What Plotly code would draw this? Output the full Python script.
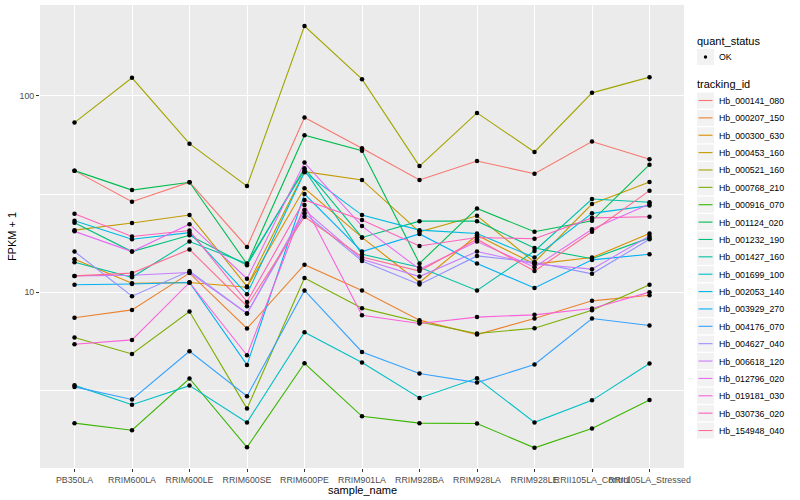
import plotly.graph_objects as go

samples = ["PB350LA", "RRIM600LA", "RRIM600LE", "RRIM600SE", "RRIM600PE", "RRIM901LA",
           "RRIM928BA", "RRIM928LA", "RRIM928LE", "RRII105LA_Control", "RRII105LA_Stressed"]

tracking_ids = ["Hb_000141_080", "Hb_000207_150", "Hb_000300_630", "Hb_000453_160", "Hb_000521_160",
                "Hb_000768_210", "Hb_000916_070", "Hb_001124_020", "Hb_001232_190", "Hb_001427_160",
                "Hb_001699_100", "Hb_002053_140", "Hb_003929_270", "Hb_004176_070", "Hb_004627_040",
                "Hb_006618_120", "Hb_012796_020", "Hb_019181_030", "Hb_030736_020", "Hb_154948_040"]

quant_status = ["OK"]

# FPKM + 1 per tracking_id across samples
hb_000141_080 = [41.6, 28.9, 36.3, 17.0, 77.5, 54.1, 37.3, 46.6, 40.1, 58.5, 47.5]
hb_000207_150 = [7.40, 8.12, 12.5, 6.53, 13.8, 10.2, 7.20, 6.08, 7.34, 9.03, 9.65]
hb_000300_630 = [14.7, 11.1, 11.2, 10.6, 33.8, 19.0, 11.2, 19.5, 13.9, 15.0, 19.9]
hb_000453_160 = [20.7, 22.5, 24.7, 10.7, 41.1, 37.3, 20.3, 24.5, 14.2, 28.1, 36.4]
hb_000521_160 = [73.1, 123.6, 57.1, 34.7, 226.8, 121.7, 43.9, 81.9, 51.8, 103.6, 124.6]
hb_000768_210 = [5.87, 4.84, 7.97, 2.55, 11.8, 8.29, 7.05, 6.16, 6.55, 8.09, 10.9]
hb_000916_070 = [2.15, 1.98, 3.63, 1.62, 4.34, 2.33, 2.15, 2.14, 1.61, 2.02, 2.82]
hb_001124_020 = [41.6, 33.1, 36.3, 13.9, 63.0, 52.6, 14.0, 26.7, 20.3, 23.1, 44.6]
hb_001232_190 = [22.6, 16.1, 19.5, 13.7, 42.8, 19.0, 23.0, 23.0, 16.8, 14.8, 18.9]
hb_001427_160 = [14.2, 11.9, 18.1, 14.0, 41.9, 15.6, 13.4, 10.2, 16.2, 29.8, 28.7]
hb_001699_100 = [3.35, 2.67, 3.34, 2.17, 6.25, 4.38, 2.89, 3.64, 2.17, 2.81, 4.33]
hb_002053_140 = [23.1, 18.6, 20.1, 9.77, 40.8, 24.7, 20.7, 19.9, 15.0, 25.2, 27.6]
hb_003929_270 = [10.9, 11.0, 11.2, 4.26, 31.6, 16.1, 19.8, 14.0, 10.5, 14.6, 15.6]
hb_004176_070 = [3.29, 2.84, 5.00, 2.95, 10.2, 4.96, 3.85, 3.46, 4.28, 7.34, 6.76]
hb_004627_040 = [16.1, 9.54, 12.8, 7.79, 25.2, 14.4, 10.95, 15.3, 14.2, 12.4, 18.6]
hb_006618_120 = [12.1, 12.2, 12.6, 7.79, 26.2, 14.7, 12.0, 16.1, 13.9, 13.1, 19.3]
hb_012796_020 = [20.4, 16.1, 22.2, 11.7, 45.7, 21.7, 13.1, 18.1, 13.4, 20.9, 28.1]
hb_019181_030 = [5.43, 5.71, 11.2, 4.77, 27.8, 7.63, 6.92, 7.46, 7.66, 8.26, 10.0]
hb_030736_020 = [25.1, 19.2, 20.6, 8.92, 29.5, 23.3, 17.2, 19.0, 18.7, 23.9, 24.2]
hb_154948_040 = [12.1, 12.5, 16.5, 8.48, 24.2, 15.1, 12.8, 18.6, 12.8, 20.3, 32.9]

series = [hb_000141_080, hb_000207_150, hb_000300_630, hb_000453_160, hb_000521_160,
          hb_000768_210, hb_000916_070, hb_001124_020, hb_001232_190, hb_001427_160,
          hb_001699_100, hb_002053_140, hb_003929_270, hb_004176_070, hb_004627_040,
          hb_006618_120, hb_012796_020, hb_019181_030, hb_030736_020, hb_154948_040]

colors = ["#F8766D", "#EA8331", "#D89000", "#C09B00", "#A3A500", "#7CAE00", "#39B600",
          "#00BB4E", "#00BF7D", "#00C1A3", "#00BFC4", "#00BAE0", "#00B0F6", "#35A2FF",
          "#9590FF", "#C77CFF", "#E76BF3", "#FA62DB", "#FF62BC", "#FF6C91"]

FONT = "Liberation Sans, Arial, sans-serif"
W, H = 800, 500
L, R, T, B = 40, 116, 5, 32
PW, PH = W - L - R, H - T - B


def px(x):
    return (x - L) / PW


def py(y):
    return (H - B - y) / PH


fig = go.Figure()
for name, vals, col in zip(tracking_ids, series, colors):
    fig.add_trace(go.Scatter(x=samples, y=vals, mode="lines", name=name,
                             line=dict(color=col, width=1.1), showlegend=False))

all_x = [s for vals in series for s in samples]
all_y = [v for vals in series for v in vals]
fig.add_trace(go.Scatter(x=all_x, y=all_y, mode="markers", name=quant_status[0],
                         marker=dict(color="black", size=4.5), showlegend=False))

# ---- hand-drawn ggplot-style legends ----
shapes, annotations = [], []
KEY_X0, KEY_X1, TXT_X = 697, 714, 717


def key_box(cy):
    shapes.append(dict(type="rect", xref="paper", yref="paper",
                       x0=px(KEY_X0), x1=px(KEY_X1), y0=py(cy + 8), y1=py(cy - 8),
                       fillcolor="#F2F2F2", line=dict(width=0), layer="above"))


def label(x, cy, text, size, color="black", anchor="left"):
    annotations.append(dict(xref="paper", yref="paper", x=px(x), y=py(cy), text=text,
                            showarrow=False, xanchor=anchor, yanchor="middle",
                            font=dict(size=size, color=color, family=FONT)))


label(695, 41, "quant_status", 11)
key_box(57)
shapes.append(dict(type="circle", xref="paper", yref="paper",
                   x0=px(703.8), x1=px(707.2), y0=py(58.7), y1=py(55.3),
                   fillcolor="black", line=dict(width=0), layer="above"))
label(TXT_X, 57.5, quant_status[0], 8.8)

label(695, 84, "tracking_id", 11)
for i, (name, col) in enumerate(zip(tracking_ids, colors)):
    cy = 100.5 + 17.37 * i
    key_box(cy)
    shapes.append(dict(type="line", xref="paper", yref="paper",
                       x0=px(KEY_X0 + 1.5), x1=px(KEY_X1 - 1.5), y0=py(cy), y1=py(cy),
                       line=dict(color=col, width=1.1), layer="above"))
    label(TXT_X, cy + 0.5, name, 8.8)

# x-axis title
label(L + PW / 2, 489.5, "sample_name", 11, anchor="center")

fig.update_layout(
    width=W, height=H,
    margin=dict(l=L, r=R, t=T, b=B, autoexpand=False),
    paper_bgcolor="white", plot_bgcolor="#EBEBEB",
    font=dict(family=FONT, color="black"),
    showlegend=False,
    shapes=shapes, annotations=annotations,
    xaxis=dict(
        type="category", categoryorder="array", categoryarray=samples,
        range=[-0.6, 10.6], showgrid=True, gridcolor="white", gridwidth=1.1,
        zeroline=False, ticks="outside", ticklen=3, tickcolor="#333333",
        tickfont=dict(size=8.8, color="#4D4D4D"), tickangle=0,
    ),
    yaxis=dict(
        type="log", range=[0.104, 2.463], tickvals=[10, 100], ticktext=["10", "100"],
        showgrid=True, gridcolor="white", gridwidth=1.1, zeroline=False,
        ticks="outside", ticklen=3, tickcolor="#333333",
        tickfont=dict(size=8.8, color="#4D4D4D"),
        minor=dict(tickvals=[3.1623, 31.623], showgrid=True, gridcolor="white",
                   gridwidth=0.55, ticks=""),
        title=dict(text="FPKM + 1", font=dict(size=11), standoff=0),
    ),
)

fig.write_html("out.html", config={"displayModeBar": False},
               post_script="document.body.style.margin='0';document.body.style.overflow='hidden';")
